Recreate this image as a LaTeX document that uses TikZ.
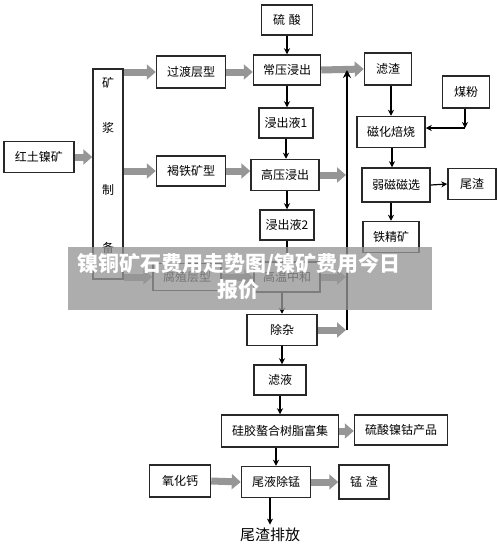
\documentclass[tikz,border=0pt]{standalone}
\usepackage{fontspec}
\newfontfamily\cjk{Noto Sans CJK SC}
\usetikzlibrary{arrows.meta}

\definecolor{boxline}{RGB}{40,40,40}
\definecolor{fatgray}{RGB}{150,150,150}
\definecolor{wmgray}{RGB}{150,150,150}

\tikzset{
  box/.style={draw=boxline, line width=1.5pt, inner sep=0pt, font=\cjk\fontsize{12}{12}\selectfont},
  flow/.style={draw=black, line width=1.2pt, -{Stealth[length=6pt,width=6pt]}},
  fatarrow/.style={draw=fatgray, line width=7pt, -{Triangle[length=9pt,width=15pt]}},
  busline/.style={draw=black, line width=2pt, -{Stealth[length=8pt,width=8pt]}}
}

\begin{document}
\begin{tikzpicture}[x=1pt, y=-1pt]
  \useasboundingbox (0,0) rectangle (500,558);

  % middle column
  \node[box, minimum width=51pt, minimum height=30pt] (liusuan) at (287,20) {硫\hspace{4pt}酸};
  \node[box, minimum width=67pt, minimum height=30pt] (changya) at (287,70) {常压浸出};
  \node[box, minimum width=54pt, minimum height=30pt] (ye1) at (286,123) {浸出液1};
  \node[box, minimum width=68pt, minimum height=31pt] (gaoya) at (285,175) {高压浸出};
  \node[box, minimum width=54pt, minimum height=30pt] (ye2) at (287,225) {浸出液2};
  \node[box, minimum width=66pt, minimum height=30pt] (zhonghe) at (287,277) {高温中和};
  \node[box, minimum width=70pt, minimum height=31pt] (chuza) at (282,330) {除杂};

  % left side
  \node[box, minimum width=70pt, minimum height=31pt] (hongtu) at (39,157) {红土镍矿};
  \node[box, minimum width=30pt, minimum height=210pt] (kuangjiang) at (108,174) {};
  \foreach \y/\ytext in {83/矿, 128/浆, 190/制, 248/备}
    \node[font=\cjk\fontsize{12}{12}\selectfont] at (108,\y) {\ytext};
  \node[box, minimum width=69pt, minimum height=32pt] (guodu) at (191,72) {过渡层型};
  \node[box, minimum width=69pt, minimum height=30pt] (hetie) at (191,171) {褐铁矿型};
  \node[box, minimum width=68pt, minimum height=27pt] (fuzhi) at (187,277) {腐殖层型};

  % right side
  \node[box, minimum width=47pt, minimum height=32pt] (lvzha) at (388,69) {滤渣};
  \node[box, minimum width=47pt, minimum height=32pt] (meifen) at (466,92) {煤粉};
  \node[box, minimum width=68pt, minimum height=31pt] (beishao) at (391,132) {磁化焙烧};
  \node[box, minimum width=68pt, minimum height=34pt] (ruoci) at (396,185) {弱磁磁选};
  \node[box, minimum width=48pt, minimum height=31pt] (weizha) at (472,184) {尾渣};
  \node[box, minimum width=56pt, minimum height=31pt] (tiejing) at (391,237) {铁精矿};

  % lower part
  \node[box, minimum width=52pt, minimum height=30pt] (lvye) at (280,380) {滤液};
  \node[box, minimum width=117pt, minimum height=32pt] (fuji) at (280,431) {硅胶螯合树脂富集};
  \node[box, minimum width=93pt, minimum height=30pt] (chanpin) at (401,430) {硫酸镍钴产品};
  \node[box, minimum width=61pt, minimum height=32pt] (yanghuagai) at (180,481) {氧化钙};
  \node[box, minimum width=69pt, minimum height=31pt] (chumeng) at (276,482) {尾液除锰};
  \node[box, minimum width=50pt, minimum height=34pt] (mengzha) at (364,482) {锰\hspace{4pt}渣};
  \node[font=\cjk\fontsize{15}{15}\selectfont] (paifang) at (270,535) {尾渣排放};

  \coordinate (bustop) at (347,70);
  \coordinate (busbot) at (347,330);
  \coordinate (meicorner) at (465,128);

  % gray block arrows
  \draw[fatarrow] (hongtu.east) -- (hongtu.east -| kuangjiang.west);
  \draw[fatarrow] (kuangjiang.east |- guodu) -- (guodu.west);
  \draw[fatarrow] (kuangjiang.east |- hetie) -- (hetie.west);
  \draw[fatarrow] (kuangjiang.east |- fuzhi) -- (fuzhi.west);
  \draw[fatarrow] (guodu.east) -- (guodu.east -| changya.west);
  \draw[fatarrow] (hetie.east) -- (hetie.east -| gaoya.west);
  \draw[fatarrow] (fuzhi.east) -- (fuzhi.east -| zhonghe.west);
  \draw[fatarrow] (changya.east) -- (lvzha.west);
  \draw[fatarrow, shorten >=1pt] (gaoya.east) -- (gaoya.east -| bustop);
  \draw[fatarrow, shorten >=1pt] (zhonghe.east) -- (zhonghe.east -| bustop);
  \draw[fatarrow, shorten >=1pt] (chuza.east) -- (busbot);
  \draw[fatarrow] (fuji.east) -- (fuji.east -| chanpin.west);
  \draw[fatarrow] (yanghuagai.east) -- (chumeng.west);
  \draw[fatarrow] (chumeng.east) -- (mengzha.west);

  % collector line
  \draw[busline] (busbot) -- (bustop);

  % thin arrows
  \draw[flow] (liusuan) -- (changya);
  \draw[flow] (changya) -- (changya.south |- ye1.north);
  \draw[flow] (ye1) -- (ye1.south |- gaoya.north);
  \draw[flow] (gaoya.south -| ye2) -- (ye2);
  \draw[flow] (ye2) -- (zhonghe);
  \draw[flow] (zhonghe.south -| chuza) -- (chuza);
  \draw[flow] (chuza) -- (chuza.south |- lvye.north);
  \draw[flow] (lvye) -- (fuji);
  \draw[flow] (fuji.south -| chumeng) -- (chumeng);
  \draw[flow] (chumeng.south -| paifang) -- (paifang.north);
  \draw[flow] (lvzha.south -| beishao) -- (beishao);
  \draw[flow] (meifen.south -| meicorner) -- (meicorner);
  \draw[flow] (meicorner) -- (meicorner -| beishao.east);
  \draw[flow] (beishao.south -| ruoci.center) ++(-4,0) coordinate (rc) -- (rc |- ruoci.north);
  \draw[flow] (ruoci.east) -- (weizha.west);
  \draw[flow] (ruoci.south -| tiejing.center) -- (tiejing);

  % overlay band
  \fill[wmgray, fill opacity=0.78] (68,247) rectangle (432,310);
  \node[text=white, font=\cjk\bfseries\fontsize{21}{21}\selectfont] (wmtop) at (239,264) {镍铜矿石费用走势图/镍矿费用今日};
  \node[text=white, font=\cjk\bfseries\fontsize{21}{21}\selectfont] (wmbot) at (238,290) {报价};
\end{tikzpicture}
\end{document}
